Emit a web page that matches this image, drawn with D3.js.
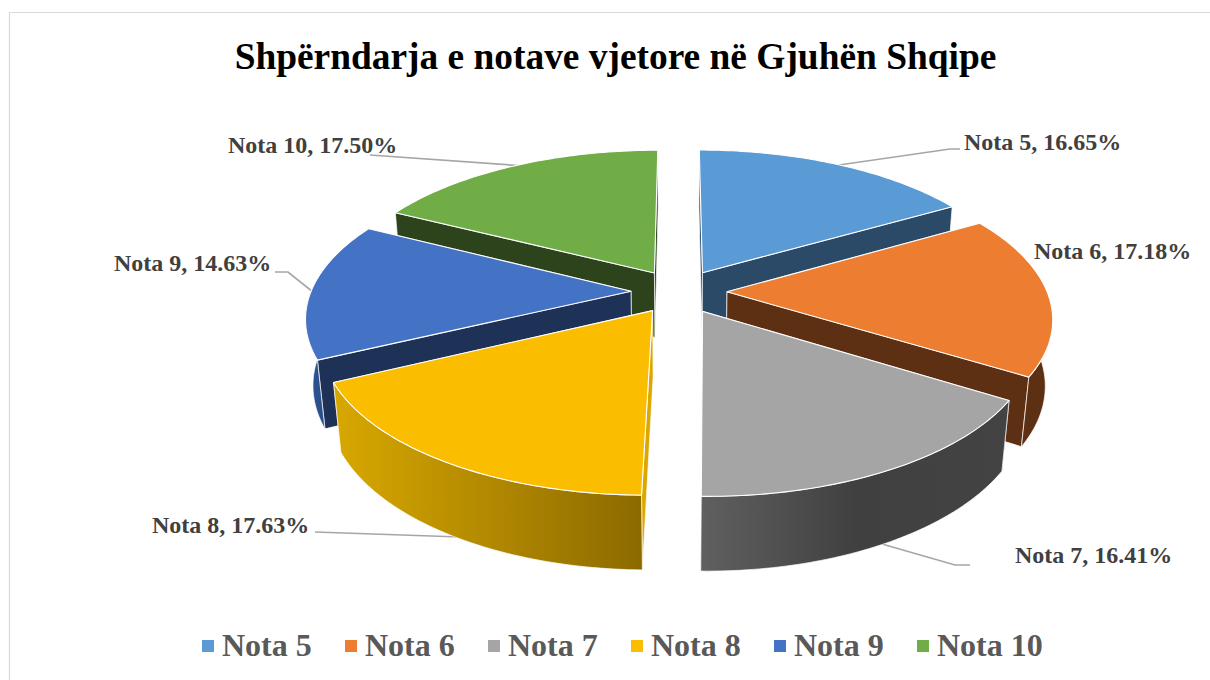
<!DOCTYPE html>
<html><head><meta charset="utf-8">
<script src="https://cdn.jsdelivr.net/npm/d3@7"></script>
<style>html,body{margin:0;padding:0;background:#fff}svg{display:block}</style>
</head><body><svg id="c" width="1210" height="680"></svg>
<script>
const chartTitle = "Shpërndarja e notave vjetore në Gjuhën Shqipe";
const categories = ["Nota 5","Nota 6","Nota 7","Nota 8","Nota 9","Nota 10"];
const values = [16.65,17.18,16.41,17.63,14.63,17.50];
const valueLabels = ["16.65%","17.18%","16.41%","17.63%","14.63%","17.50%"];
const topColors = ["#5b9bd5","#ed7d31","#a5a5a5","#fbbd00","#4472c4","#70ad47"];
const wallColors = ["#2a4a68","#5e3013","#424242","#dca800","#1e3257","#2c431b"];
const outerStops = [["#2a4a68","#2a4a68"],["#5e3013","#5e3013"],["#606060","#404040","#434343"],["#d8a800","#8c6a00"],["#2f5597","#2a4d88"],["#2c431b","#2c431b"]];
const paintOrder = [5,0,4,1,3,2];
const labelLayout = [
 {x:964,y:150,leader:[[825,167],[950,149],[960,149]]},
 {x:1034,y:259,leader:null},
 {x:1015,y:563,leader:[[875,542],[955,565],[970,565]]},
 {x:152,y:533,leader:[[460,537],[315,532]]},
 {x:114,y:271,leader:[[318,296],[288,272],[275,272]]},
 {x:228,y:153,leader:[[525,166],[370,155]]}
];

const svg = d3.select("#c");
const cam = {cx:679,cy:291.5,F:320,el:27.55*Math.PI/180,D:5.5,explode:0.15,depth:0.235};
const sinE=Math.sin(cam.el), cosE=Math.cos(cam.el);
function project(X,Y,Z){
  const u=-Y*sinE+Z*cosE, w=Y*cosE+Z*sinE, s=cam.D/(cam.D-w);
  return [cam.cx+cam.F*X*s, cam.cy-cam.F*u*s];
}
const line=d3.line();
const pie=d3.pie().sort(null).value(d=>d);
const arcs=pie(values);
const defs=svg.append("defs");
outerStops.forEach((st,i)=>{
  const g=defs.append("linearGradient").attr("id","g"+i).attr("x1",0).attr("x2",1).attr("y1",0).attr("y2",0);
  st.forEach((c,j)=>g.append("stop").attr("offset",j/(st.length-1)).attr("stop-color",c));
});

svg.append("path").attr("d","M9.5,680V12.5H1210").attr("fill","none").attr("stroke","#d9d9d9").attr("stroke-width",1.2);

svg.append("text").attr("x",615.5).attr("y",69).attr("text-anchor","middle")
  .attr("font-family","Liberation Serif").attr("font-weight","bold").attr("font-size",37.4).attr("fill","#000").text(chartTitle);

// leaders sit behind the pie
labelLayout.forEach(l=>{ if(l.leader) svg.append("path").attr("d",line(l.leader)).attr("fill","none").attr("stroke","#a6a6a6").attr("stroke-width",1.7); });

const gPie=svg.append("g");
paintOrder.forEach(i=>{
  const a=arcs[i], mid=(a.startAngle+a.endAngle)/2;
  const ox=Math.sin(mid)*cam.explode, oy=-Math.cos(mid)*cam.explode;
  const P=(r,t,z)=>project(ox+r*Math.sin(t),oy-r*Math.cos(t),z);
  const ts=d3.range(0,61).map(k=>a.startAngle+(a.endAngle-a.startAngle)*k/60);
  const g=gPie.append("g").attr("class","slice");
  const wall=t=>[P(0,t,0),P(1,t,0),P(1,t,-cam.depth),P(0,t,-cam.depth)];
  // the wall turned away from the viewer is painted first
  const walls=[{t:a.startAngle,face:-Math.sin(a.startAngle)},{t:a.endAngle,face:Math.sin(a.endAngle)}].sort((p,q)=>p.face-q.face);
  walls.forEach(w=>g.append("path").attr("d",line(wall(w.t))+"Z").attr("fill",wallColors[i]).attr("stroke","#fff").attr("stroke-width",0.7).attr("stroke-linejoin","round"));
  const front=ts.filter(t=>-Math.cos(t)>-0.05);
  if(front.length>1){
    const outer=front.map(t=>P(1,t,0)).concat(front.slice().reverse().map(t=>P(1,t,-cam.depth)));
    g.append("path").attr("d",line(outer)+"Z").attr("fill",`url(#g${i})`).attr("stroke","#fff").attr("stroke-width",0.7).attr("stroke-linejoin","round");
  }
  const top=[P(0,a.startAngle,0)].concat(ts.map(t=>P(1,t,0)));
  g.append("path").attr("d",line(top)+"Z").attr("fill",topColors[i]).attr("stroke","#fff").attr("stroke-width",1.1).attr("stroke-linejoin","round");
});

labelLayout.forEach((l,i)=>{
  svg.append("text").attr("x",l.x).attr("y",l.y).attr("font-family","Liberation Serif").attr("font-weight","bold")
    .attr("font-size",24).attr("fill","#404040").text(`${categories[i]}, ${valueLabels[i]}`);
});

const legend=d3.scaleBand().domain(categories).range([202,202+143*6]);
const lg=svg.append("g");
categories.forEach((c,i)=>{
  const x=legend(c);
  lg.append("rect").attr("x",x).attr("y",640).attr("width",12).attr("height",12).attr("fill",topColors[i]);
  lg.append("text").attr("x",x+20).attr("y",656).attr("font-family","Liberation Serif").attr("font-weight","bold")
    .attr("font-size",32).attr("fill","#595959").text(c);
});
</script></body></html>
